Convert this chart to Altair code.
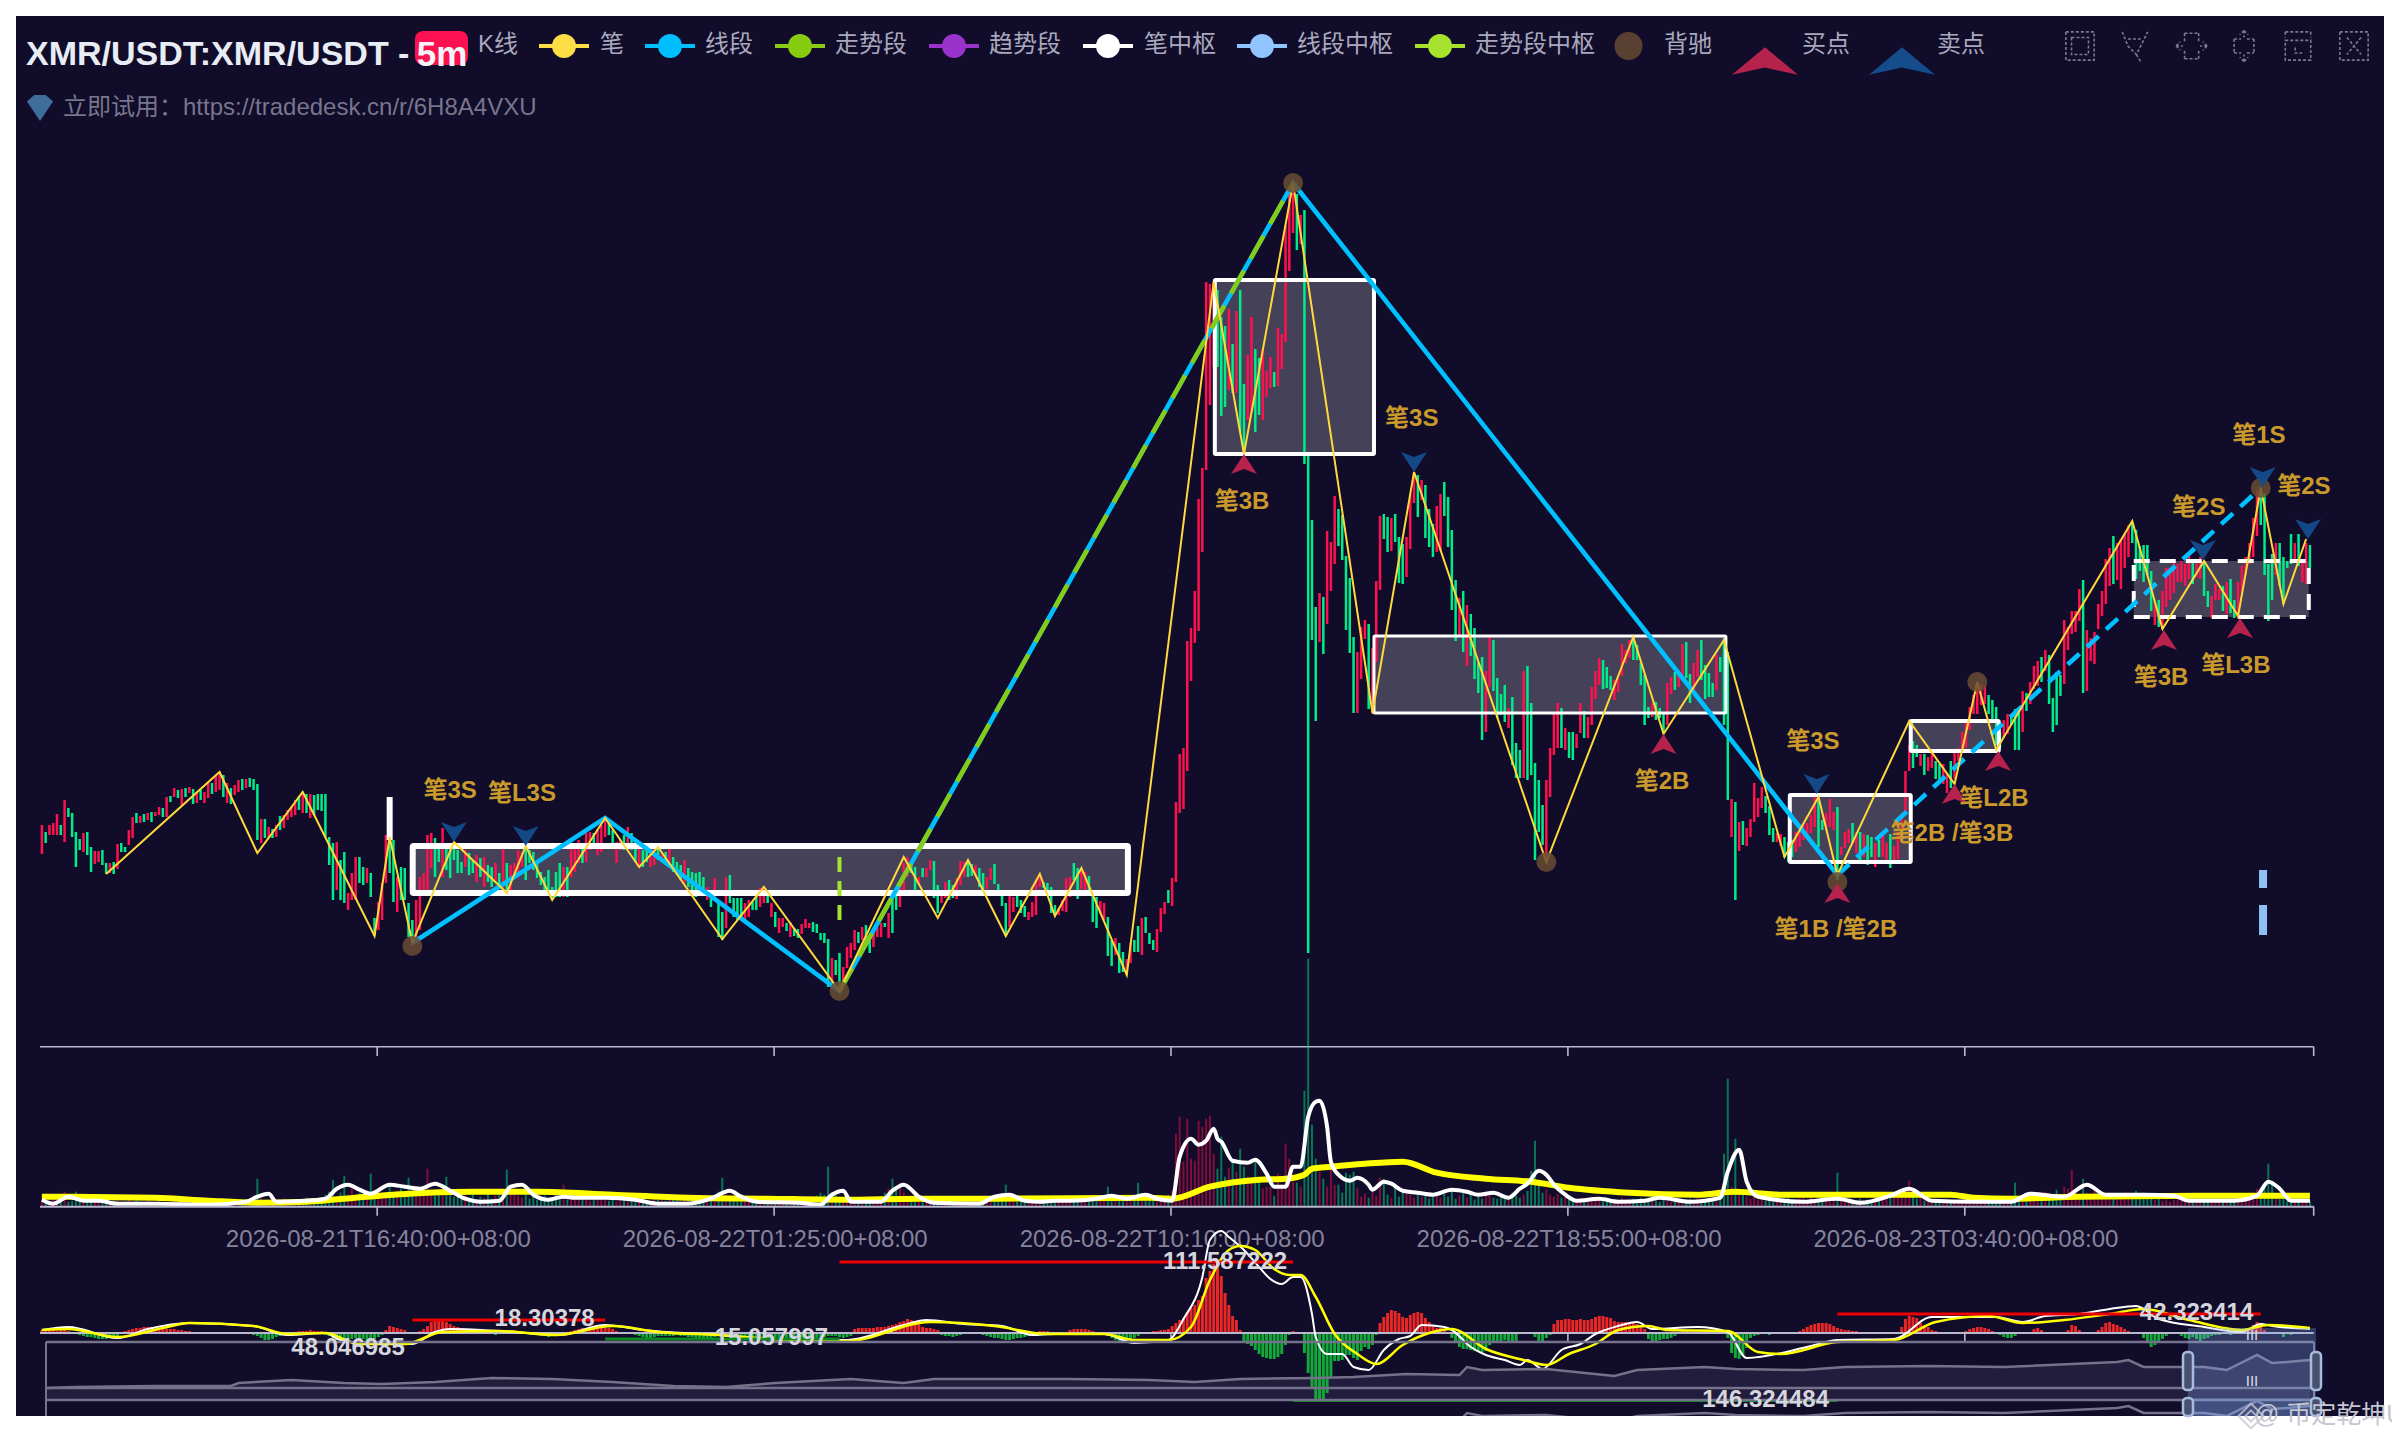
import altair as alt
import pandas as pd

PANEL = "#100c2a"
RED, GREEN = "#ff1150", "#00ec8b"
FONT = "Liberation Sans, Noto Sans CJK SC"

# ---------- candles: (high, low, rising) by bar index ----------
kline_000 = [(275,246,1),(268,257,0),(275,265,1),(277,265,1),(286,265,1),(275,265,0),(300,258,1),(292,283,0),(287,263,0),(268,233,0),
(261,250,0),(267,248,1),(268,245,0),(253,228,0),(249,236,1),(249,238,1),(250,235,0),(237,226,0),(237,227,1),(238,226,0),
(256,231,1),(257,248,0),(253,248,0),(270,255,1),(283,262,1),(287,277,0),(284,277,1),(286,278,0),(287,280,1),(288,278,0),
(288,284,1),(293,285,1),(292,283,0),(303,283,1),(304,298,0),(312,303,1),(310,302,0),(311,295,1),(312,303,0),(313,307,1),
(311,296,0),(308,297,1),(310,300,0),(308,297,1),(317,302,1),(317,306,0),(325,308,1),(328,310,1),(325,303,0),(317,297,1),
(312,296,0),(315,305,1),(320,308,1),(321,310,0),(321,312,1),(322,313,0),(321,310,0),(316,260,0),(281,257,1),(281,262,0),
(273,262,1),(271,262,0),(275,263,1),(284,270,0),(285,272,1),(290,280,1),(293,283,1),(300,285,1),(304,290,0),(308,287,1),
(306,287,0),(306,282,1),(305,285,0),(306,290,0),(306,289,0),(306,263,0),(263,235,0),(257,200,0),(258,210,1),(240,200,0)]
kline_080 = [(248,197,0),(207,190,1),(227,200,1),(243,200,1),(243,217,0),(233,215,0),(232,217,1),(227,203,0),(182,164,0),(198,170,1),
(217,180,1),(265,217,1),(275,227,0),(260,198,0),(223,188,1),(233,200,0),(232,200,0),(197,163,0),(180,157,0),(200,158,1),
(223,170,1),(227,207,1),(265,210,1),(267,232,1),(262,223,0),(252,238,0),(272,223,1),(257,230,0),(257,222,0),(257,240,0),
(250,227,0),(238,227,0),(250,233,1),(247,225,0),(240,227,0),(245,218,1),(242,223,0),(243,213,1),(235,218,0),(233,213,0),
(237,218,1),(227,213,0),(257,208,1),(237,207,0),(235,210,1),(237,225,1),(250,223,1),(248,233,1),(254,220,0),(250,237,0),
(248,230,0),(237,222,0),(228,215,0),(223,207,0),(230,207,0),(213,200,0),(228,203,0),(237,203,0),(233,203,1),(233,203,0),
(253,223,1),(252,228,1),(260,237,1),(253,237,0),(267,238,1),(268,250,1),(267,253,0),(270,245,1),(275,248,1),(282,263,1),
(277,265,0),(270,257,0),(258,237,1),(260,250,1),(265,250,0),(273,250,1),(267,250,0),(260,238,0),(253,232,1),(250,233,0),
(253,238,0),(250,233,1),(252,235,1),(253,240,0),(247,238,1),(248,235,0),(257,235,1),(243,228,0),(238,225,0),(235,220,0),
(240,217,1),(232,213,0),(228,210,0),(227,203,0),(228,207,0),(223,207,0),(213,200,1),(207,193,0),(222,200,1),(200,163,0),
(188,160,0),(223,172,1),(225,197,0),(202,183,0),(202,180,0),(202,182,0),(197,180,1),(200,183,1),(198,190,0),(210,190,0),
(212,193,1),(213,197,1),(208,197,0),(197,183,1),(188,173,0),(182,167,1)]
kline_196 = [(182,173,1),(177,169,0),(178,163,1),(172,164,0),(171,162,0),(176,166,1),(181,172,1),(177,172,1),(178,168,0),(176,167,0),
(167,160,0),(167,157,0),(161,113,0),(142,118,1),(140,125,0),(147,110,0),(133,117,1),(153,132,1),(157,142,1),(170,150,1),
(168,157,0),(173,160,1),(175,153,0),(163,147,0),(172,153,1),(173,163,1),(177,163,1),(177,173,0),(187,162,1),(210,167,0),
(210,190,0),(217,193,1),(237,207,1),(243,223,1),(237,227,0),(233,208,0),(223,217,1),(232,223,0),(232,223,1),(240,230,1),
(239,202,0),(215,187,0),(206,197,1),(218,202,1),(220,200,0),(215,202,0),(222,201,1),(239,215,1),(238,223,1),(238,223,0),
(236,224,0),(235,223,1),(232,213,0),(227,208,0),(223,211,1),(232,220,1),(236,216,0),(216,207,0),(207,194,0),(197,164,0),
(206,173,1),(203,188,1),(204,193,0),(200,187,0),(194,183,0),(188,180,1),(198,183,1),(220,185,1),(223,213,1),(218,212,0),
(217,208,0),(213,187,0),(195,185,0),(192,185,1),(200,189,1),(222,188,1),(223,203,1),(237,220,0),(232,201,0),(232,211,1),
(228,208,1),(224,205,0),(207,178,0),(203,172,0),(199,187,1),(197,180,1),(183,144,0),(160,134,0),(162,145,1),(157,127,0),
(148,128,0),(141,125,1),(157,137,1),(160,148,0),(174,148,0),(182,145,1),(183,167,0),(167,156,0),(160,150,0),(171,148,1),
(192,168,1),(198,186,1),(210,197,0),(222,194,1)]
kline_300 = [(298,218,1),(346,287,1),(352,291,1),(459,329,1),(472,419,1),(509,457,1),(601,469,1),(632,548,1),(818,630,1),(816,695,1),
(819,733,1),(810,733,0),(783,684,0),(774,693,0),(791,710,1),(756,707,0),(789,707,1),(810,668,0),(716,645,0),(745,680,1),
(783,687,1),(751,668,0),(742,685,0),(751,680,1),(729,703,1),(743,712,1),(728,713,0),(772,714,1),(766,731,1),(875,758,1),
(913,829,1),(917,867,1),(906,850,0),(885,856,1),(890,636,0)]
kline_335 = [(648,147,0),(580,460,0),(493,379,0),(507,458,1),(503,446,0),(569,476,1),(558,509,1),(604,536,1),(591,554,0),(585,540,0),
(544,470,0),(522,447,0),(463,387,0),(448,387,1),(473,421,1),(480,461,1),(476,391,0),(452,386,1),(519,438,1),(584,510,1),
(586,561,0),(583,548,0),(582,549,1),(586,558,0),(563,517,0),(556,516,0),(563,523,1),(606,551,1),(627,597,1),(625,583,0),
(620,600,1),(615,562,0),(591,553,0),(576,543,0),(594,548,1),(606,549,1),(618,584,0),(603,553,0),(570,490,0),(520,459,0),
(502,463,1),(509,448,0),(495,434,1),(486,444,0),(472,421,0),(437,407,0)]
kline_381 = [(443,360,0),(429,368,1),(463,413,1),(460,409,0),(422,382,0),(406,385,0),(415,378,0),(392,372,1),(403,335,0),(357,322,0),
(350,322,0),(429,322,1),(434,320,0),(397,325,0),(337,240,0),(320,268,0),(295,255,0),(320,238,1),(352,303,1),(387,345,1),
(397,352,1),(392,352,0),(372,350,1),(368,342,0),(368,340,0),(366,352,1),(397,367,1),(389,362,0),(383,362,1),(413,375,1),
(429,401,1),(442,415,1),(440,411,0),(433,412,0),(424,410,0),(420,400,1),(423,408,1),(456,424,1),(450,437,1),(460,442,1),
(463,440,0),(455,440,0),(437,415,0),(425,375,0),(393,382,0),(397,383,1),(398,380,0),(392,382,0),(388,367,0),(417,375,1),
(423,406,1),(428,410,0),(428,413,1),(456,425,1),(458,422,0),(426,397,0),(437,410,1),(450,423,1),(460,420,0),(435,401,0),
(427,403,0),(417,403,0),(445,410,1),(443,428,0),(462,375,0),(448,300,0),(301,263,1),(298,200,0),(278,249,1),(279,255,0),
(272,254,1),(281,263,1),(317,278,1),(302,283,1),(313,292,1),(304,287,0),(294,265,0),(272,258,0),(267,258,1),(266,254,1),
(263,243,0),(258,238,0),(260,243,0),(268,248,1),(270,253,1),(275,260,1),(277,260,1),(285,267,1),(305,273,1),(300,253,0),
(280,270,0),(287,270,1),(301,273,1),(288,270,1),(293,220,0),(253,245,1),(268,252,1),(271,257,1),(277,257,0),(268,247,1),
(268,240,0),(266,243,1),(265,235,0),(263,243,0),(257,233,1),(260,243,0)]
kline_487 = [(266,243,1),(257,236,1),(266,232,0),(254,236,1),(268,241,1),(287,264,1),(329,286,1),(355,329,1),(359,332,0),(355,343,0),
(346,334,1),(346,325,0),(343,329,1),(348,332,1),(339,321,0),(336,320,0),(336,316,1),(327,307,1),(339,312,0),(350,321,1),
(352,339,1),(368,350,1),(380,352,1),(393,370,1),(405,386,1),(418,386,1),(416,395,1),(414,396,1),(405,386,0),(400,377,0),
(393,355,0),(368,352,0),(380,362,1),(386,366,1),(384,375,0),(391,350,0),(389,350,0),(409,368,1),(407,389,0),(418,396,1),
(434,411,1),(439,414,1),(443,418,0),(450,429,1),(445,396,0),(402,368,0),(428,375,0),(425,404,0),(480,416,1),(473,450,1),
(489,466,1),(489,468,1),(511,479,1),(520,407,0),(470,409,1),(462,439,1),(468,436,1),(496,471,1),(509,484,1),(541,496,1),
(552,514,1),(564,516,0),(557,520,1),(561,511,1),(566,532,1),(575,543,1),(577,557,0),(570,521,0),(554,529,0),(555,518,0),
(555,525,0),(529,489,0),(498,475,1),(500,473,0),(509,471,1),(532,493,1),(532,500,1),(537,507,1),(536,518,1),(539,518,1),
(536,514,1),(546,521,1),(539,516,0),(539,523,1),(543,521,1),(537,504,0),(509,493,0),(504,482,1),(516,500,1),(511,500,1),
(514,489,0),(518,486,1),(521,487,0),(500,482,0),(518,482,1),(534,507,1),(543,525,1),(557,536,1),(582,543,1),(611,564,1),
(612,575,0),(607,525,0),(536,479,0),(546,500,0),(557,525,1),(557,514,0),(543,496,0),(539,532,0),(566,536,0),(557,539,1),
(566,534,0),(539,518,1),(557,516,1),(555,532,0)]
kline_chunks = [(0,kline_000),(80,kline_080),(196,kline_196),(300,kline_300),(335,kline_335),(381,kline_381),(487,kline_487)]

# ---------- volume ----------
vol_000 = [5,6,4,7,5,6,15,5,6,15,7,5,8,6,5,4,6,4,5,6,7,4,5,8,4,6,5,3,6,4,5,7,4,5,3,6,4,5,8,4,6,3,5,4,7,5,3,6,4,5]
vol_050 = [4,6,5,7,4,6,9,28,8,5,7,4,6,5,8,4,6,5,7,6,9,6,5,8,6,12,15,27,11,14,31,12,18,11,14,10,16,33,13,15,10,12,22,14,16,18,12,29,15,18]
vol_100 = [14,16,38,15,11,13,17,30,12,10,14,9,11,8,12,7,10,9,13,8,11,14,18,37,20,14,11,9,12,8,10,7,9,11,8,6,12,9,22,7,10,8,11,9,7,6,8,10,9,7]
vol_150 = [6,8,5,9,7,6,8,10,7,9,6,5,8,7,9,6,7,8,6,5,7,9,6,8,7,5,9,6,12,15,29,14,9,7,8,6,9,7,5,8,6,9,7,6,8,5,7,9,6,8]
vol_200 = [6,7,5,8,9,11,14,12,40,15,12,9,8,6,7,5,8,6,9,7,6,8,10,14,18,28,20,24,14,10,8,6,9,7,5,8,6,7,9,5,8,6,7,5,9,6,8,7,6,5]
vol_250 = [7,8,6,9,12,22,10,8,7,9,6,8,5,7,9,6,8,5,7,6,8,9,10,7,8,6,9,7,8,6,8,10,20,9,12,10,8,11,9,8,24,12,8,10,7,6,9,8,12,16]
vol_300 = [73,90,45,88,48,46,86,80,88,91,53,38,70,30,39,45,35,58,40,30,25,47,27,18,20,20,11,33,22,63,48,25,24,20,116,248,82,48,35,28,20,38,22,22,14,34,32,35,19,10]
vol_350 = [13,9,19,11,29,28,12,9,21,10,14,16,12,9,14,10,12,8,11,15,9,13,10,17,8,11,14,9,12,7,10,8,14,11,9,8,10,12,9,14,11,9,12,16,36,66,22,14,17,12]
vol_400 = [10,13,9,11,8,10,7,9,6,8,10,7,9,6,8,5,7,6,9,5,7,8,6,9,5,7,6,8,5,7,6,5,8,6,7,5,8,6,9,6,7,8,9,6,12,53,128,20,68,16]
vol_450 = [14,10,8,12,7,9,6,8,5,7,6,8,9,5,7,8,9,6,10,7,8,9,6,8,11,34,9,6,7,5,6,8,5,7,6,9,7,11,8,12,10,9,14,16,26,13,8,10,6,7]
vol_500 = [5,7,6,5,8,6,7,5,6,8,7,6,9,7,8,6,7,5,9,6,7,10,24,8,11,9,12,10,14,11,15,12,10,17,13,20,18,37,15,12,28,14,11,16,13,15,12,14,10,13]
vol_550 = [11,14,9,12,16,10,14,11,8,7,9,6,8,5,7,9,6,8,5,7,6,8,5,7,6,9,5,6,8,7,9,6,11,12,10,14,18,16,20,43,22,12,8,10,6,8,5,7,9,5,6]
vol_chunks = [vol_000,vol_050,vol_100,vol_150,vol_200,vol_250,vol_300,vol_350,vol_400,vol_450,vol_500,vol_550]

vol_ma_white = [(0,7),(3,3),(7,10),(11,6),(15,6),(20,3),(30,3),(44,2),(54,5),(57,10),(60,13),(62,5),(70,6),(75,8),(78,18),(81,22),(84,17),(87,13),(92,22),(96,20),(100,18),(104,23),(108,16),(112,8),(116,5),(121,6),(124,20),(127,22),(130,12),(134,7),(138,10),(141,9),(149,9),(157,7),(163,3),(171,3),(177,8),(182,16),(185,10),(189,5),(200,4),(206,2),(209,12),(212,16),(214,5),(218,5),(222,5),(225,16),(228,22),(232,10),(236,4),(248,3),(252,10),(256,12),(260,6),(264,5),(268,6),(272,6),(279,8),(283,11),(287,8),(292,12),(295,8),(299,6),(301,50),(304,68),(306,62),(308,66),(310,78),(311,68),(312,65),(315,46),(319,44),(321,47),(324,33),(326,20),(329,20),(331,40),(333,40),(335,90),(337,105),(338,106),(340,80),(341,45),(343,32),(346,26),(348,29),(351,22),(352,17),(355,25),(357,23),(360,16),(364,14),(368,12),(373,17),(377,15),(380,12),(384,14),(388,9),(391,18),(393,23),(396,36),(398,32),(400,22),(403,12),(406,6),(412,8),(417,5),(424,6),(428,9),(436,5),(444,9),(446,35),(449,57),(451,25),(454,10),(466,5),(475,8),(481,4),(489,11),(494,18),(500,6),(511,5),(521,5),(526,13),(535,10),(541,22),(546,12),(556,12),(564,11),(568,6),(580,6),(586,11),(589,25),(592,18),(595,6),(600,6)]
vol_ma_yellow = [(0,10),(30,9),(44,6),(57,4),(70,5),(86,10),(102,14),(114,15),(131,15),(151,12),(171,9),(192,8),(212,7),(232,8),(252,8),(293,9),(299,8),(309,20),(322,27),(329,28),(334,32),(336,38),(341,40),(350,43),(360,45),(369,34),(382,28),(394,25),(404,19),(420,14),(438,12),(448,15),(460,12),(505,12),(511,9),(521,8),(539,10),(570,11),(600,11)]

# ---------- MACD ----------
hist_000 = [3,3,3,3,2,3,3,2,1,-1,-2,-3,-4,-4,-5,-6,-6,-6,-5,-4,-3,-1,2,3,4,5,5,6,6,6,5,5,5,4,4,4,3,3,2,2,1,1,0,-1,0,1,-1,0,1,-1,-1,0,1,-1,0,-1,-2,-3,-5,-7,-7,-6,-4,-3,-2,-1,0,1,2,2,2,3,2,2,2,-2,-3,-5,-7,-8,-8,-7,-6,-5,-5,-6,-8,-8,-6,-4,-2,3,7,6,5,4,3,1,-1,0]
hist_100 = [2,4,7,11,12,13,13,11,9,7,6,5,4,3,2,1,1,0,-1,-1,-2,-1,1,2,2,3,2,1,0,-1,-1,-2,-3,-3,-4,-3,-3,-3,-2,-1,2,3,4,5,5,5,6,6,6,5,5,4,2,1,0,0,-1,-2,-3,-4,-5,-5,-4,-3,-3,-3,-3,-3,-2,-3,-3,-4,-4,-5,-5,-6,-5,-5,-4]
hist_179 = [-3,-3,-4,-4,-5,-5,-5,-6,-6,-6,-7,-7,-7,-6,-6,-5,-5,-5,-6,-6,-6,-7,-6,-6,-5,-5,-5,-4,-4,-3,-3,-3,-4,-5,-4,-3,4,5,5,5,5,5,6,6,6,7,8,9,11,12,14,13,11,9,6,5,5,4,3,-2,-3,-3,-4,-3,-2,-1,0,0,-1,-1,-2,-3,-4,-5,-5,-6,-7,-7,-6,-5,-5,-4,-3,-2,1,2,2,2,1,0,0,0,1,3,4,4,4,4,3,2,1,0,-1,-3,-5,-7,-8,-8,-8,-7,-5,-3,-1,1,1,2,2,3,3,4,7]
hist_300 = [10,13,15,21,25,28,33,37,55,62,69,70,57,40,28,17,13,3,-8,-11,-13,-17,-21,-24,-25,-26,-26,-24,-21,-12,-2,2,1,0,-20,-40,-55,-66,-66,-66,-60,-45,-28,-28,-27,-22,-22,-25,-27,-18,-14,-16,-12,-2,10,16,20,23,22,20,16,15,18,20,21,20,15,11,7,5,5,4,1,-5,-10,-14,-16,-16,-17,-18,-19,-19,-18,-12,-10,-9,-8,-7,-8,-8,-9,1,0,1,-1,-4,-8,-8,-5,-2]
hist_400 = [9,13,13,14,14,13,13,14,13,13,14,16,17,17,16,15,12,11,11,11,10,11,9,6,4,-6,-8,-8,-7,-6,-6,-5,-3,0,2,2,1,2,2,3,2,1,2,1,0,-1,-5,-20,-25,-26,-22,-15,-5,-3,-2,-1,-1,-2,-1,-1,-1,0,-1,0,1]
hist_465 = [2,4,6,8,9,10,10,10,9,7,5,4,3,3,2,2,1,1,0,0,-1,0,1,1,0,0,1,6,14,17,16,15,10,8,6,3,2,1,1,1,0,1,1,0,2,4,5,6,6,5,4,2,-1,-2,-4,-5,-5,-3,-1,0,-1,1,4,5,3,1,1,1,0,1,1,3,8,7,3,1,1,1,1,3,6,10,11,9,8,6,4,2,1,1,-1,-5,-10,-14,-12,-8,-6,-3,-1,0,-1,-3,-5,-6,-4,-6,-8,-6,-5,-3,-2,-2,-1,-1,-2,-1,0,1,1,3,8,11,8,3,1,1,0,-1,-4,-1,-2,1,-1,1,-1,1]
hist_chunks = [(0,hist_000),(100,hist_100),(179,hist_179),(300,hist_300),(400,hist_400),(465,hist_465)]

macd_dif = [(0,3),(7,6),(20,-5),(28,4),(39,10),(56,7),(65,-2),(75,0),(79,-7),(90,-11),(98,-11),(104,1),(108,4),(121,2),(137,-2),(149,8),(159,3),(179,-2),(192,-6),(213,-7),(228,8),(234,13),(244,9),(254,7),(262,-2),(268,-1),(281,-1),(289,-10),(298,-7),(302,14),(307,56),(309,93),(312,102),(314,96),(318,83),(322,66),(325,54),(328,49),(331,56),(333,56),(336,19),(337,-4),(340,-21),(344,-21),(347,-34),(351,-37),(355,-17),(359,-6),(362,-3),(365,8),(371,6),(373,3),(378,-14),(382,-22),(387,-27),(391,-32),(393,-27),(397,-36),(402,-17),(407,-11),(411,-1),(417,7),(422,11),(426,4),(438,6),(446,1),(451,-25),(468,-13),(475,-7),(490,-6),(500,16),(517,16),(524,11),(530,17),(539,19),(547,24),(554,27),(560,14),(572,6),(582,1),(587,9),(590,7),(600,4)]
macd_dea = [(0,3),(7,4),(20,-4),(32,5),(39,10),(56,7),(65,-1),(75,0),(84,-11),(96,-11),(106,1),(121,2),(136,-2),(151,7),(163,1),(179,-2),(204,-8),(213,-8),(235,11),(252,7),(266,-1),(281,-1),(289,-7),(298,-7),(304,6),(309,53),(314,83),(317,87),(321,83),(326,64),(330,58),(333,58),(337,36),(342,-1),(348,-21),(353,-31),(360,-12),(367,0),(373,4),(382,-16),(392,-27),(398,-32),(404,-21),(411,-11),(417,3),(425,7),(430,3),(446,2),(454,-19),(460,-21),(475,-9),(490,-7),(501,11),(515,17),(524,10),(535,13),(547,19),(556,24),(568,13),(582,3),(589,8),(600,5)]
macd_ext = [(211,331,71,"#f00000",3),(98,149,13,"#f00000",3),(149,211,-6,"#0a8a1e",3),(331,475,-68,"#0a8a1e",2),(475,587,19,"#f00000",3)]
macd_labels = [("111.587222",313,71),("18.30378",133,14),("15.057997",193,-5),("48.046985",81,-15),("146.324484",456,-67),("42.323414",570,20)]

# ---------- chan structure ----------
bi_points = [(17,226),(47,328),(57,247),(69,308),(88,164),(92,263),(98,157),(109,258),(123,207),(128,254),(135,200),(149,282),(158,233),(163,253),(180,161),(191,213),(211,109),(228,243),(237,182),(245,240),(255,164),(264,226),(268,184),(275,232),(287,125),(310,818),(318,646),(331,917),(352,387),(363,628),(398,238),(421,463),(429,366),(445,460),(461,243),(470,303),(475,225),(494,379),(506,316),(512,418),(517,350),(553,579),(561,471),(572,539),(581,484),(587,612),(593,496),(599,561)]
seg_solid = [(98,157),(149,282),(211,109),(331,917),(475,225)]
seg_dashed = [(475,225),(587,612)]
trend_seg = [(211,109),(331,917)]
pivots = [(98.1,287.3,254,207,6),(310.3,352.4,820,646,4),(352.4,445.5,464,387,3),(462.4,494.4,305,238,4),(494.4,517.7,379,349,4)]
pivot_dashed = [(553.4,599.7,539,483,4)]
divergence = [(98,154),(211,109),(331,917),(398,238),(475,218),(512,418),(587,612)]
buy_tips = [(318,646),(429,366),(475,217),(506,316),(517.5,349),(561.4,470),(581.5,482)]
sell_tips = [(109,258),(128,254),(363,628),(469.5,306),(571.7,540),(587.5,613),(599.5,561)]
signal_labels = [("笔3S",108,309),("笔L3S",127,306),("笔3B",317.5,598),("笔3S",362.4,681),("笔2B",428.6,318),("笔3S",468.5,358),("笔1B /笔2B",474.6,170),("笔2B /笔3B",505.3,266),("笔L2B",516.4,301),("笔3B",560.6,422),("笔L3B",580.4,434),("笔2S",570.6,592),("笔2S",598.4,613),("笔1S",586.5,664)]

tick_bars = [88.7,193.7,298.7,403.7,508.7,601]
time_labels = [("2026-08-21T16:40:00+08:00",89),("2026-08-22T01:25:00+08:00",194),("2026-08-22T10:10:00+08:00",299),("2026-08-22T18:55:00+08:00",404),("2026-08-23T03:40:00+08:00",509)]

slider_line = [(1,12),(9,13),(30,14),(50,14),(52,17),(66,20),(80,17),(90,16),(104,18),(119,22),(135,21),(151,18),(167,14),(181,13),(194,17),(214,21),(228,17),(236,21),(252,21),(272,21),(293,20),(305,18),(317,21),(337,22),(347,23),(361,26),(375,25),(377,33),(381,30),(398,31),(416,24),(422,30),(440,33),(448,31),(466,30),(477,33),(499,34),(519,33),(549,38),(552,40),(556,33),(566,33),(572,33),(578,30),(586,45),(590,37),(594,38),(600,40)]

# ---------- scales ----------
XS = alt.Scale(domain=[-6.85, 619.6], range=[0, 2368], nice=False, zero=False)
X = alt.X("i:Q", scale=XS, axis=None)
X2 = alt.X2("i2:Q")
PRICE = alt.Scale(domain=[0, 1000], range=[1084, 84], nice=False, zero=False)
VOL = alt.Scale(domain=[0, 100], range=[1190.7, 1090.7], nice=False, zero=False)
MACD = alt.Scale(domain=[0, 100], range=[1317, 1217], nice=False, zero=False)
SLD = alt.Scale(domain=[0, 100], range=[1384, 1284], nice=False, zero=False)
SLD2 = alt.Scale(domain=[0, 100], range=[1430, 1330], nice=False, zero=False)
def Y(s): return alt.Y("v:Q", scale=s, axis=None)
Y2 = alt.Y2("v2:Q")
def pts(p): return pd.DataFrame(p, columns=["i", "v"])

def line(p, s, color, w, interpolate="linear", **kw):
    return alt.Chart(pts(p)).mark_line(color=color, strokeWidth=w, interpolate=interpolate, **kw).encode(x=X, y=Y(s))

# ---------- frames ----------
k_rows = []
for start, ch in kline_chunks:
    for n, (h, l, u) in enumerate(ch):
        k_rows.append({"i": start + n, "v": h, "v2": l, "c": RED if u else GREEN})
kdf = pd.DataFrame(k_rows)
dirs = dict(zip(kdf.i, kdf.c))
vols = [x for c in vol_chunks for x in c]
vdf = pd.DataFrame({"i": range(len(vols)), "v": vols, "v2": 0})
vdf["c"] = [dirs.get(i, GREEN) for i in vdf.i]
h_rows = []
for start, ch in hist_chunks:
    for n, x in enumerate(ch):
        h_rows.append({"i": start + n, "v": x, "v2": 0, "c": "#e92727" if x > 0 else "#14a83a"})
hdf = pd.DataFrame(h_rows)
pdf = pd.DataFrame(pivots, columns=["i", "i2", "v", "v2", "sw"])
pddf = pd.DataFrame(pivot_dashed, columns=["i", "i2", "v", "v2", "sw"])

layers = []
# pivot fill and candles
allp = pd.concat([pdf, pddf])
layers.append(alt.Chart(allp).mark_rect(fill="#ffffff", fillOpacity=0.22, strokeOpacity=0).encode(x=X, x2=X2, y=Y(PRICE), y2=Y2))
layers.append(alt.Chart(kdf).mark_rule(strokeWidth=2.5).encode(x=X, y=Y(PRICE), y2=Y2, color=alt.Color("c:N", scale=None)))
layers.append(alt.Chart(pdf).mark_rect(fillOpacity=0, stroke="#ffffff", cornerRadius=1).encode(x=X, x2=X2, y=Y(PRICE), y2=Y2, strokeWidth=alt.StrokeWidth("sw:Q", scale=None)))
layers.append(alt.Chart(pddf).mark_rect(fillOpacity=0, stroke="#ffffff", strokeDash=[16, 10]).encode(x=X, x2=X2, y=Y(PRICE), y2=Y2, strokeWidth=alt.StrokeWidth("sw:Q", scale=None)))
# short pivot stubs
stubs = pd.DataFrame([(92, 303, 260, "#ffffff", 6)], columns=["i", "v", "v2", "c", "sw"])
layers.append(alt.Chart(stubs).mark_rule().encode(x=X, y=Y(PRICE), y2=Y2, color=alt.Color("c:N", scale=None), strokeWidth=alt.StrokeWidth("sw:Q", scale=None)))
layers.append(alt.Chart(pd.DataFrame({"i": [211], "v": [243], "v2": [180]})).mark_rule(color="#a6e22e", strokeWidth=4, strokeDash=[15, 9]).encode(x=X, y=Y(PRICE), y2=Y2))
layers.append(alt.Chart(pd.DataFrame({"i": [587.6], "v": [230], "v2": [165]})).mark_rule(color="#8fc1f5", strokeWidth=8, strokeDash=[18, 17, 30, 0]).encode(x=X, y=Y(PRICE), y2=Y2))
# lines
layers.append(line(seg_solid, PRICE, "#00bfff", 4.6))
layers.append(line(trend_seg, PRICE, "#84cc16", 4.6, strokeDash=[26, 14]))
layers.append(line(seg_dashed, PRICE, "#00bfff", 4.6, strokeDash=[16, 10]))
layers.append(line(bi_points, PRICE, "#ffd93b", 2))
# divergence / signals
layers.append(alt.Chart(pts(divergence)).mark_point(filled=True, color="#684c33", opacity=0.85, size=400, shape="circle").encode(x=X, y=Y(PRICE)))
UP = "M0,-0.77L1,0.77L0,0.38L-1,0.77Z"
DOWN = "M0,0.77L1,-0.77L0,-0.38L-1,-0.77Z"
buy_df = pts(buy_tips); buy_df["v"] = buy_df["v"] - 10
sell_df = pts(sell_tips); sell_df["v"] = sell_df["v"] + 10
layers.append(alt.Chart(buy_df).mark_point(filled=True, color="#b5224c", opacity=1, size=676, shape=UP).encode(x=X, y=Y(PRICE)))
layers.append(alt.Chart(sell_df).mark_point(filled=True, color="#154d8c", opacity=0.95, size=676, shape=DOWN).encode(x=X, y=Y(PRICE)))
layers.append(alt.Chart(pd.DataFrame(signal_labels, columns=["t", "i", "v"])).mark_text(font=FONT, fontSize=24, fontWeight="bold", color="#c99a2b", baseline="middle").encode(x=X, y=Y(PRICE), text="t:N"))
# axis 1
axis_line = pd.DataFrame({"i": [-0.5], "i2": [601], "v": [53.3], "v2": [53.3]})
layers.append(alt.Chart(axis_line).mark_rule(color="#b9b8ce", strokeWidth=1.6).encode(x=X, x2=X2, y=Y(PRICE)))
layers.append(alt.Chart(pd.DataFrame({"i": tick_bars, "v": 53.3, "v2": 44})).mark_rule(color="#b9b8ce", strokeWidth=1.6).encode(x=X, y=Y(PRICE), y2=Y2))
# volume
layers.append(alt.Chart(vdf).mark_rule(strokeWidth=2, opacity=0.47).encode(x=X, y=Y(VOL), y2=Y2, color=alt.Color("c:N", scale=None)))
layers.append(line(vol_ma_yellow, VOL, "#ffff00", 6, "monotone"))
layers.append(line(vol_ma_white, VOL, "#ffffff", 4, "monotone"))
layers.append(alt.Chart(pd.DataFrame({"i": [-0.5], "i2": [601], "v": [0]})).mark_rule(color="#b9b8ce", strokeWidth=2).encode(x=X, x2=X2, y=Y(VOL)))
layers.append(alt.Chart(pd.DataFrame({"i": tick_bars, "v": 0, "v2": -9})).mark_rule(color="#b9b8ce", strokeWidth=1.6).encode(x=X, y=Y(VOL), y2=Y2))
layers.append(alt.Chart(pd.DataFrame(time_labels, columns=["t", "i"]).assign(v=-33.3)).mark_text(font=FONT, fontSize=24, color="#85849a", baseline="middle").encode(x=X, y=Y(VOL), text="t:N"))

# slider area (below the MACD bars)
layers.append(alt.Chart(pts(slider_line)).mark_area(color="#241f3d", opacity=0.95).encode(x=X, y=Y(SLD)))
# macd
layers.append(alt.Chart(hdf).mark_rule(strokeWidth=3).encode(x=X, y=Y(MACD), y2=Y2, color=alt.Color("c:N", scale=None)))
layers.append(alt.Chart(pd.DataFrame({"i": [-0.5], "i2": [601], "v": [0]})).mark_rule(color="#b9b8ce", strokeWidth=2).encode(x=X, x2=X2, y=Y(MACD)))
layers.append(alt.Chart(pd.DataFrame({"i": tick_bars[2:5], "v": 0, "v2": -9})).mark_rule(color="#b9b8ce", strokeWidth=1.6).encode(x=X, y=Y(MACD), y2=Y2))
layers.append(line(macd_dif, MACD, "#ffffff", 2, "monotone"))
layers.append(line(macd_dea, MACD, "#ffff00", 2.5, "monotone"))
layers.append(alt.Chart(pd.DataFrame(macd_ext, columns=["i", "i2", "v", "c", "sw"])).mark_rule().encode(x=X, x2=X2, y=Y(MACD), color=alt.Color("c:N", scale=None), strokeWidth=alt.StrokeWidth("sw:Q", scale=None)))

# slider frame
layers.append(line(slider_line, SLD, "#74728a", 2.5))
layers.append(alt.Chart(pts(slider_line)).mark_line(color="#74728a", strokeWidth=2.5, clip=True).encode(x=X, y=Y(SLD2)))
for py in (1342, 1388, 1400):
    layers.append(alt.Chart(pd.DataFrame({"a": [0]})).mark_rule(color="#74728a", strokeWidth=2.5).encode(x=alt.value(30), x2=alt.value(2298), y=alt.value(py - 16)))
layers.append(alt.Chart(pd.DataFrame({"a": [0]})).mark_rule(color="#74728a", strokeWidth=2).encode(x=alt.value(30), y=alt.value(1326), y2=alt.value(1400)))
layers.append(alt.Chart(pd.DataFrame({"a": [0]})).mark_rule(color="#74728a", strokeWidth=2).encode(x=alt.value(2298), y=alt.value(1326), y2=alt.value(1400)))
layers.append(alt.Chart(pd.DataFrame({"a": [0]})).mark_rect(color="#87aff8", opacity=0.28).encode(x=alt.value(2172), x2=alt.value(2300), y=alt.value(1312), y2=alt.value(1400)))
layers.append(alt.Chart(pd.DataFrame({"a": [0]})).mark_rect(color="#87aff8", opacity=0.2).encode(x=alt.value(2172), x2=alt.value(2300), y=alt.value(1382), y2=alt.value(1400)))
for hx in (2172, 2300):
    for y0, y1 in ((1336, 1374), (1382, 1400)):
        layers.append(alt.Chart(pd.DataFrame({"a": [0]})).mark_rect(fill="#47506f", stroke="#a6bcdc", strokeWidth=2.5, cornerRadius=4).encode(x=alt.value(hx - 5), x2=alt.value(hx + 5), y=alt.value(y0), y2=alt.value(y1)))

def txt(s, px, py, size, color, weight="normal", align="left"):
    return alt.Chart(pd.DataFrame({"a": [0]})).mark_text(font=FONT, fontSize=size, color=color, fontWeight=weight, align=align, baseline="middle").encode(x=alt.value(px - 16), y=alt.value(py - 16), text=alt.value(s))

for py in (1335, 1381):
    layers.append(txt("III", 2252, py, 15, "#dcdce6", align="center"))
# macd value labels on top
layers.append(alt.Chart(pd.DataFrame(macd_labels, columns=["t", "i", "v"])).mark_text(font=FONT, fontSize=24, fontWeight="bold", color="#d6d6de", baseline="middle").encode(x=X, y=Y(MACD), text="t:N"))

# title
layers.append(txt("XMR/USDT:XMR/USDT - ", 26, 55, 34, "#e8ecf4", "bold"))
layers.append(alt.Chart(pd.DataFrame({"a": [0]})).mark_rect(color="#fb1150", cornerRadius=8).encode(x=alt.value(399), x2=alt.value(452), y=alt.value(15), y2=alt.value(49)))
layers.append(txt("5m", 442, 55, 35, "#f4f4f8", "bold", "center"))
layers.append(txt("立即试用：https://tradedesk.cn/r/6H8A4VXU", 63, 108, 24, "#77768c"))
layers.append(alt.Chart(pd.DataFrame({"a": [0]})).mark_point(filled=True, color="#4a84b8", opacity=0.8, size=680, shape="M-1,-0.5L-0.45,-1L0.45,-1L1,-0.5L0,1Z").encode(x=alt.value(24), y=alt.value(92)))

# legend
LT = "#a9a8bc"
legend_items = [("笔", 539, 600, "#ffdd44"), ("线段", 645, 705, "#00bfff"), ("走势段", 775, 835, "#88cc11"), ("趋势段", 929, 989, "#9933cc"), ("笔中枢", 1083, 1144, "#ffffff"), ("线段中枢", 1237, 1297, "#90c4ff"), ("走势段中枢", 1415, 1475, "#a6e22e")]
layers.append(txt("K线", 478, 45, 24, LT))
for name, lx, tx, col in legend_items:
    layers.append(alt.Chart(pd.DataFrame({"a": [0]})).mark_rule(color=col, strokeWidth=4).encode(x=alt.value(lx - 16), x2=alt.value(lx + 34), y=alt.value(46 - 16)))
    layers.append(alt.Chart(pd.DataFrame({"a": [0]})).mark_point(filled=True, color=col, opacity=1, size=576, shape="circle").encode(x=alt.value(lx + 25 - 16), y=alt.value(30)))
    layers.append(txt(name, tx, 45, 24, LT))
layers.append(alt.Chart(pd.DataFrame({"a": [0]})).mark_point(filled=True, color="#5a4030", opacity=1, size=784, shape="circle").encode(x=alt.value(1612.5), y=alt.value(30)))
layers.append(txt("背驰", 1664, 45, 24, LT))
WIDE = "M0,-0.42L1,0.42L0,0.2L-1,0.42Z"
layers.append(alt.Chart(pd.DataFrame({"a": [0]})).mark_point(filled=True, color="#b5224c", opacity=1, size=4356, shape=WIDE).encode(x=alt.value(1749), y=alt.value(45)))
layers.append(txt("买点", 1802, 45, 24, LT))
layers.append(alt.Chart(pd.DataFrame({"a": [0]})).mark_point(filled=True, color="#154d8c", opacity=1, size=4356, shape=WIDE).encode(x=alt.value(1886), y=alt.value(45)))
layers.append(txt("卖点", 1937, 45, 24, LT))

# toolbox
tool_icons = [
 (2080, "M-1,-1H1V1H-1Z M-0.6,-0.6H0.6V0.6H-0.6Z"),
 (2135, "M-0.9,-1L-0.5,0L0.1,0.6L0.9,-1 M-0.5,-0.5L0.4,-0.5 M0.1,0.6L0.4,1.1"),
 (2191.6, "M-0.5,-0.9H0.5 M-0.5,0.9H0.5 M-0.5,-0.9V-0.3 M0.5,-0.9V-0.3 M-0.5,0.9V0.3 M0.5,0.9V0.3 M-1.1,0H-0.6 M-1.1,0L-0.8,-0.3 M-1.1,0L-0.8,0.3 M1.1,0H0.6 M1.1,0L0.8,-0.3 M1.1,0L0.8,0.3"),
 (2244, "M-0.7,-0.5H-0.2 M0.2,-0.5H0.7 M-0.7,0.5H-0.2 M0.2,0.5H0.7 M-0.7,-0.5V0.5 M0.7,-0.5V0.5 M0,-1.1V-0.6 M0,-1.1L-0.3,-0.8 M0,-1.1L0.3,-0.8 M0,1.1V0.6 M0,1.1L-0.3,0.8 M0,1.1L0.3,0.8"),
 (2298, "M-0.9,-1H0.9 M-0.9,-1V-0.6 M0.9,-1V-0.6 M-0.9,-0.4H0.9V1H-0.9Z M-0.2,0.1V0.5H0.3"),
 (2354, "M-1,-1H1V1H-1Z M-0.5,-0.6L0.5,0.6 M0.5,-0.6L-0.5,0.6"),
]
for cx, path in tool_icons:
    layers.append(alt.Chart(pd.DataFrame({"a": [0]})).mark_point(filled=False, stroke=LT, strokeWidth=1.6, strokeDash=[3, 2], size=800, shape=path).encode(x=alt.value(cx - 16), y=alt.value(30)))

# watermark
layers.append(alt.Chart(pd.DataFrame({"a": [0]})).mark_point(filled=False, stroke="#c6c6d2", strokeWidth=2, size=620, opacity=0.8, shape="M0,-1L1,0L0,1L-1,0Z M0,-0.45L0.45,0L0,0.45L-0.45,0Z").encode(x=alt.value(2235), y=alt.value(1400)))
layers.append(txt("@ 币定乾坤U", 2254, 1415, 25, "#c6c6d2"))

chart = alt.layer(*layers).resolve_scale(y="independent").properties(
    width=2368, height=1400,
    padding={"left": 8, "top": 8, "right": 8, "bottom": 20},
    autosize=alt.AutoSizeParams(type="none"),
    background="#ffffff",
).configure_view(fill=PANEL, stroke=None)

chart.save("out.html", embed_options={"renderer": "svg", "actions": False})
